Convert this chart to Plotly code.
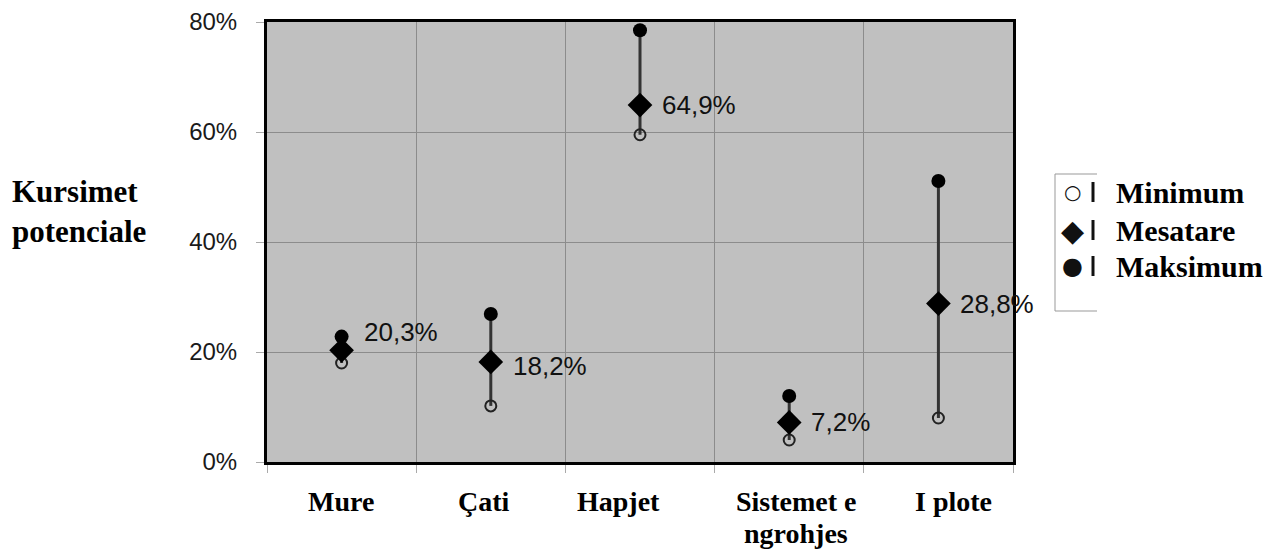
import plotly.graph_objects as go

categories = ["Mure", "Çati", "Hapjet", "Sistemet e", "I plote"]
category_line2 = ["", "", "", "ngrohjes", ""]
minimum = [18.0, 10.2, 59.5, 4.0, 8.0]
mesatare = [20.3, 18.2, 64.9, 7.2, 28.8]
maksimum = [22.8, 26.9, 78.5, 12.0, 51.1]
labels = ["20,3%", "18,2%", "64,9%", "7,2%", "28,8%"]
label_yshift = [18, -4, 0, 0, 0]
cat_xshift = [-1, -7, -22, 7, 15]
yticks = [0, 20, 40, 60, 80]
yticktext = ["0%", "20%", "40%", "60%", "80%"]
legend_names = ["Minimum", "Mesatare", "Maksimum"]

xs = list(range(len(categories)))

# page body has an 8px margin; target pixel positions are compensated
OFF = 8
L, R, T, B = 267 - OFF, 1281 - 1013 + OFF, 22 - OFF, 552 - 462 + OFF
W, H = 1281, 552
plot_w = W - L - R
plot_h = H - T - B


def px_to_paper_x(px):
    return (px - OFF - L) / plot_w


def py_to_paper_y(py):
    return (H - B - (py - OFF)) / plot_h


fig = go.Figure()

lx, ly = [], []
for i in xs:
    lx += [i, i, None]
    ly += [minimum[i], maksimum[i], None]
fig.add_trace(go.Scatter(x=lx, y=ly, mode="lines", line=dict(color="#333333", width=3),
                         hoverinfo="skip", showlegend=False))
fig.add_trace(go.Scatter(x=xs, y=minimum, mode="markers", name="Minimum",
                         marker=dict(symbol="circle-open", size=11, color="#222222",
                                     line=dict(width=2, color="#222222")), showlegend=False))
fig.add_trace(go.Scatter(x=xs, y=maksimum, mode="markers", name="Maksimum",
                         marker=dict(symbol="circle", size=14, color="#000000"), showlegend=False))
fig.add_trace(go.Scatter(x=xs, y=mesatare, mode="markers", name="Mesatare",
                         marker=dict(symbol="diamond", size=19, color="#000000"), showlegend=False))

annotations = []
cat_font = dict(family="Liberation Serif, Times New Roman, serif", size=28, color="#000000")
for i in xs:
    annotations.append(dict(x=i, y=mesatare[i], xref="x", yref="y", text=labels[i],
                            showarrow=False, xanchor="left", yanchor="middle",
                            xshift=20, yshift=label_yshift[i],
                            font=dict(family="Liberation Sans, Arial, sans-serif", size=26, color="#111111")))
    annotations.append(dict(x=i, y=0, xref="x", yref="paper", text="<b>%s</b>" % categories[i],
                            showarrow=False, xanchor="center", yanchor="top", yshift=-22,
                            xshift=cat_xshift[i], font=cat_font))
    if category_line2[i]:
        annotations.append(dict(x=i, y=0, xref="x", yref="paper", text="<b>%s</b>" % category_line2[i],
                                showarrow=False, xanchor="center", yanchor="top", yshift=-54,
                                xshift=cat_xshift[i], font=cat_font))

annotations.append(dict(x=px_to_paper_x(10), y=py_to_paper_y(212), xref="paper", yref="paper",
                        text="<b>Kursimet<br>potenciale</b>",
                        showarrow=False, xanchor="left", yanchor="middle", align="left",
                        font=dict(family="Liberation Serif, Times New Roman, serif", size=31, color="#000000")))

shapes = [dict(type="rect", xref="paper", yref="paper",
               x0=px_to_paper_x(1055), x1=px_to_paper_x(1120),
               y0=py_to_paper_y(311), y1=py_to_paper_y(174),
               line=dict(color="#999999", width=1), fillcolor="white", layer="below")]
shapes.append(dict(type="rect", xref="paper", yref="paper",
                   x0=px_to_paper_x(1097), x1=px_to_paper_x(1275),
                   y0=py_to_paper_y(320), y1=py_to_paper_y(165),
                   line=dict(width=0), fillcolor="white", layer="above"))
legend_y = [192, 230, 266]
symbols = ["○", "◆", "●"]
sym_sizes = [20, 30, 24]
for k in range(3):
    shapes.append(dict(type="line", xref="paper", yref="paper",
                       x0=px_to_paper_x(1093), x1=px_to_paper_x(1093),
                       y0=py_to_paper_y(legend_y[k] + 10), y1=py_to_paper_y(legend_y[k] - 10),
                       line=dict(color="#111111", width=3), layer="above"))
    annotations.append(dict(x=px_to_paper_x(1072), y=py_to_paper_y(legend_y[k]), xref="paper", yref="paper",
                            text=symbols[k], showarrow=False, xanchor="center", yanchor="middle",
                            font=dict(family="DejaVu Sans", size=sym_sizes[k], color="#111111")))
    annotations.append(dict(x=px_to_paper_x(1114), y=py_to_paper_y(legend_y[k]), xref="paper", yref="paper",
                            text="<b>%s</b>" % legend_names[k], showarrow=False, xanchor="left", yanchor="middle",
                            font=dict(family="Liberation Serif, Times New Roman, serif", size=30, color="#000000")))

fig.update_layout(
    width=W, height=H,
    margin=dict(l=L, r=R, t=T, b=B, autoexpand=False),
    paper_bgcolor="white", plot_bgcolor="#c0c0c0",
    xaxis=dict(range=[-0.5, 4.5], tickvals=[-0.5, 0.5, 1.5, 2.5, 3.5, 4.5],
               showticklabels=False, showgrid=True, gridcolor="#8c8c8c", gridwidth=1,
               ticks="outside", ticklen=8, tickcolor="#aaaaaa", zeroline=False,
               showline=True, mirror=True, linecolor="#000000", linewidth=3, fixedrange=True),
    yaxis=dict(range=[0, 80], tickvals=yticks, ticktext=yticktext,
               showgrid=True, gridcolor="#8c8c8c", gridwidth=1,
               ticks="outside", ticklen=8, tickcolor="#aaaaaa", zeroline=False,
               showline=True, mirror=True, linecolor="#000000", linewidth=3,
               tickfont=dict(family="Liberation Sans, Arial, sans-serif", size=24, color="#1a1a1a"),
               ticklabelstandoff=14, fixedrange=True),
    showlegend=False,
    annotations=annotations,
    shapes=shapes,
)

fig.write_html("out.html")
